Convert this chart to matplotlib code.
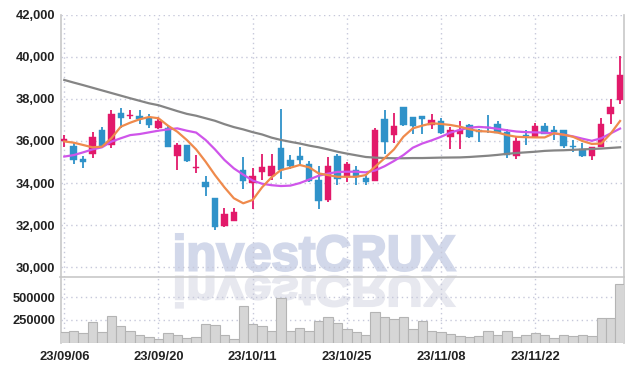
import matplotlib
matplotlib.use("Agg")
import matplotlib.pyplot as plt
import numpy as np
from matplotlib.textpath import TextPath
from matplotlib.font_manager import FontProperties
from matplotlib.patches import PathPatch
from matplotlib.transforms import Affine2D

# ---------------- data ----------------
dates = ["2023-09-06", "2023-09-07", "2023-09-08", "2023-09-11", "2023-09-12", "2023-09-13",
         "2023-09-14", "2023-09-15", "2023-09-18", "2023-09-19", "2023-09-20", "2023-09-21",
         "2023-09-22", "2023-09-25", "2023-09-26", "2023-09-27", "2023-10-04", "2023-10-05",
         "2023-10-06", "2023-10-10", "2023-10-11", "2023-10-12", "2023-10-13", "2023-10-16",
         "2023-10-17", "2023-10-18", "2023-10-19", "2023-10-20", "2023-10-23", "2023-10-24",
         "2023-10-25", "2023-10-26", "2023-10-27", "2023-10-30", "2023-10-31", "2023-11-01",
         "2023-11-02", "2023-11-03", "2023-11-06", "2023-11-07", "2023-11-08", "2023-11-09",
         "2023-11-10", "2023-11-13", "2023-11-14", "2023-11-15", "2023-11-16", "2023-11-17",
         "2023-11-20", "2023-11-21", "2023-11-22", "2023-11-23", "2023-11-24", "2023-11-27",
         "2023-11-28", "2023-11-29", "2023-11-30", "2023-12-01", "2023-12-04", "2023-12-05"]

opens = [36000, 35750, 35150, 35400, 36500, 35800, 37350, 37200, 37200, 37100,
         36600, 36600, 35300, 35800, 34700, 34050, 33300, 31950, 32200, 34600,
         34000, 34550, 34350, 35650, 35100, 35300, 34900, 34150, 33200, 35300,
         34300, 34600, 34250, 34100, 37050, 36300, 37600, 37150, 37200, 36750,
         36950, 36200, 36350, 36750, 36500, 36650, 36800, 36450, 35300, 36300,
         36200, 36700, 36500, 36500, 35750, 35600, 35300, 35700, 37300, 37950]
highs = [36300, 35900, 35300, 36450, 36650, 37450, 37550, 37450, 37450, 37300,
         37150, 36700, 35900, 35800, 35350, 34350, 33300, 32800, 32800, 35250,
         34700, 35400, 35370, 37500, 35350, 35700, 35050, 34800, 35220, 35400,
         35000, 34800, 34400, 36600, 37450, 37350, 37600, 37150, 37200, 37300,
         37100, 36650, 36950, 36800, 36550, 37250, 36950, 36550, 36180, 36500,
         36850, 36850, 36700, 36500, 36050, 35900, 35700, 37080, 38000, 40050]
lows = [35700, 34900, 34700, 35200, 35650, 35650, 36600, 37050, 36800, 36600,
        36550, 35700, 34600, 35000, 34500, 33400, 31750, 31900, 32200, 33700,
        32750, 34150, 34150, 34200, 34650, 34850, 34050, 32750, 33120, 33900,
        34050, 33900, 33900, 34100, 35400, 35900, 36700, 36350, 36350, 36570,
        36350, 35600, 35600, 36150, 35950, 36400, 36400, 35200, 35130, 35800,
        36150, 36350, 36050, 35650, 35500, 35230, 35100, 35700, 36800, 37750]
closes = [36100, 35100, 35000, 36200, 35750, 37300, 37100, 37250, 37050, 36750,
          36950, 35700, 35800, 35050, 34750, 33800, 31900, 32550, 32650, 34100,
          34350, 34750, 34800, 34600, 34800, 35100, 34100, 33150, 34800, 34200,
          34900, 34300, 34050, 36500, 35950, 36700, 36750, 36700, 37050, 37000,
          36400, 36500, 36500, 36200, 36450, 36600, 36400, 35350, 36000, 36250,
          36700, 36350, 36450, 35750, 35700, 35300, 35700, 36800, 37600, 39150]

ma_short = [35980, 35920, 35810, 35700, 35730, 36130, 36680, 36870, 37030, 37140,
            37080, 36730, 36440, 36050, 35600, 35020, 34380, 33800, 33280, 33040,
            33200, 33800, 34270, 34620, 34730, 34860, 34750, 34460, 34380, 34300,
            34300, 34300, 34380, 34780, 35180, 35600, 36200, 36600, 36730, 36840,
            36810, 36760, 36680, 36560, 36470, 36450, 36400, 36280, 36200, 36180,
            36170, 36170, 36370, 36300, 36200, 36000, 35860, 35880, 36350, 36950]
ma_mid = [35260, 35330, 35460, 35600, 35700, 35970, 36130, 36280, 36330, 36410,
          36490, 36550, 36600, 36490, 36400, 36050, 35600, 35100, 34700, 34400,
          34120, 33970, 33900, 33860, 33880, 34000, 34170, 34350, 34450, 34530,
          34540, 34540, 34510, 34600, 34800, 35050, 35330, 35680, 35880, 36030,
          36200, 36400, 36530, 36630, 36670, 36640, 36580, 36510, 36450, 36420,
          36410, 36395, 36360, 36300, 36220, 36110, 36010, 36130, 36360, 36590]
ma_long = [38900, 38775, 38655, 38530, 38405, 38280, 38155, 38030, 37910, 37790,
           37700, 37560, 37420, 37290, 37200, 37080, 36960, 36800, 36660, 36550,
           36420, 36310, 36160, 36050, 35960, 35880, 35780, 35700, 35600, 35490,
           35400, 35320, 35240, 35210, 35190, 35180, 35180, 35190, 35190, 35200,
           35210, 35215, 35220, 35240, 35270, 35300, 35340, 35390, 35430, 35460,
           35490, 35530, 35550, 35560, 35580, 35600, 35620, 35640, 35670, 35700]

volumes = [114000, 125000, 100000, 228000, 121000, 293000, 186000, 132000, 79000, 64000,
           43000, 100000, 79000, 54000, 64000, 207000, 196000, 79000, 43000, 400000,
           207000, 186000, 132000, 493000, 132000, 161000, 132000, 239000, 286000, 214000,
           150000, 118000, 86000, 332000, 279000, 257000, 279000, 150000, 239000, 132000,
           114000, 96000, 71000, 64000, 75000, 132000, 86000, 132000, 61000, 86000,
           107000, 79000, 50000, 86000, 75000, 86000, 75000, 268000, 268000, 643000]

price_ticks = [30000, 32000, 34000, 36000, 38000, 40000, 42000]
volume_ticks = [250000, 500000]
label_every = 10
watermark = "investCRUX"

# ---------------- styling ----------------
UP = "#e2196a"
DOWN = "#2f92c9"
GRID = "#c6c8da"
SPINE = "#c8c8c8"
FONT = ["Liberation Sans", "DejaVu Sans"]
plt.rcParams["font.family"] = FONT

W, H = 634, 371
fig = plt.figure(figsize=(W / 100, H / 100), dpi=100, facecolor="white")

L, R = 60.5, 624.3
top_main, bot_main, bot_vol = 14.7, 277.3, 342.5
ax = fig.add_axes([L / W, 1 - bot_main / H, (R - L) / W, (bot_main - top_main) / H])
axv = fig.add_axes([L / W, 1 - bot_vol / H, (R - L) / W, (bot_vol - bot_main) / H], sharex=ax)
for a in (ax, axv):
    a.set_facecolor("none")

x = np.arange(len(dates))
o = np.array(opens); c = np.array(closes); h = np.array(highs); lo = np.array(lows)
up = c >= o
cols = np.where(up, UP, DOWN)
bottoms = np.minimum(o, c)
heights = np.maximum(np.abs(c - o), 45)

ax.vlines(x, lo, h, colors=cols, linewidth=1.3, zorder=3)
ax.bar(x, heights, bottom=bottoms, width=0.68, color=cols, edgecolor=cols, linewidth=0.3, zorder=4)
ax.plot(x, ma_long, color="#858585", linewidth=1.6, zorder=5)
ax.plot(x, ma_mid, color="#cf55ea", linewidth=1.6, zorder=5)
ax.plot(x, ma_short, color="#ef8a4c", linewidth=1.6, zorder=5)

axv.bar(x, volumes, width=1.0, color="#d6d6d6", edgecolor="#b4b4b4", linewidth=0.8, zorder=3)

ax.set_xlim(-0.4, 59.45)
ax.set_ylim(29524, 42000)
axv.set_ylim(0, 720000)

ax.set_yticks(price_ticks)
ax.set_yticklabels([f"{v:,}" for v in price_ticks])
axv.set_yticks(volume_ticks)
axv.set_yticklabels([str(v) for v in volume_ticks])

tick_pos = x[::label_every]
axv.set_xticks(tick_pos)
axv.set_xticklabels([dates[i][2:].replace("-", "/") for i in tick_pos])
ax.tick_params(axis="x", labelbottom=False, length=0)

for a in (ax, axv):
    a.grid(True, color=GRID, linestyle=(0, (1, 2.5)), linewidth=1.0)
    a.set_axisbelow(True)
    a.tick_params(axis="both", length=0, labelsize=9.3, labelcolor="#222222", pad=4)
    for lab in a.get_yticklabels() + a.get_xticklabels():
        lab.set_fontweight("bold")
    a.spines["top"].set_visible(False)
    a.spines["left"].set_color(SPINE)
    a.spines["right"].set_color(SPINE)
    a.spines["left"].set_linewidth(1.2)
    a.spines["right"].set_linewidth(1.2)
ax.spines["bottom"].set_color(SPINE)
ax.spines["bottom"].set_linewidth(1.2)
axv.spines["bottom"].set_visible(False)
axv.tick_params(axis="x", pad=6)

# ---------------- watermark ----------------
fp = FontProperties(family=["Liberation Sans", "DejaVu Sans"], weight="bold")
tp = TextPath((0, 0), watermark, size=100, prop=fp)
ext = tp.get_extents()

def place(x0, x1, y0, y1):
    sx = (x1 - x0) / ext.width
    sy = (y1 - y0) / ext.height
    return Affine2D().translate(-ext.x0, -ext.y0).scale(sx, sy).translate(x0, y0)

main_tr = place(176, 455, H - 270.9, H - 234.1)
fig.patches.append(PathPatch(main_tr.transform_path(tp), facecolor="#d2d8ea", edgecolor="#d2d8ea",
                             linewidth=1.6, joinstyle="miter", transform=None, zorder=-1, figure=fig))
refl_tr = place(176, 455, H - 276.0, H - 307.5)
fig.patches.append(PathPatch(refl_tr.transform_path(tp), facecolor="#e7e8ef", edgecolor="#e7e8ef",
                             linewidth=1.6, joinstyle="miter", transform=None, zorder=-1, figure=fig))

fig.savefig("out.png", dpi=100, facecolor="white")
